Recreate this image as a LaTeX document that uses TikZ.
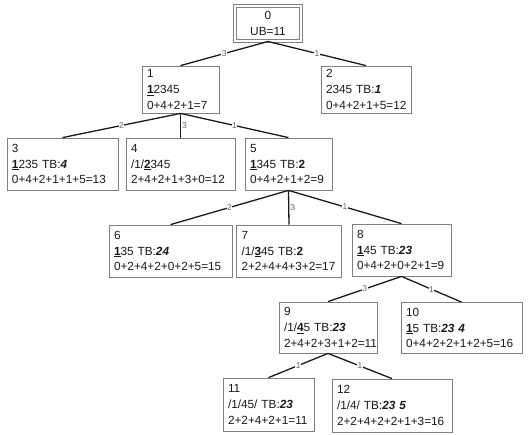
\documentclass[tikz,border=0pt]{standalone}
\usepackage{fontspec}
\setmainfont{Liberation Sans}
\definecolor{bbink}{HTML}{1A1A1A}
\definecolor{bbframe}{HTML}{808080}
\definecolor{bbnum}{HTML}{666666}
\tikzset{
  bb text/.style={font=\fontsize{11.8}{15.7}\selectfont, text=bbink},
  bb box/.style={draw=bbframe, line width=0.8pt, fill=white, align=left,
    inner xsep=5pt, inner ysep=0pt, minimum height=52pt},
  bb root/.style={draw=bbframe, line width=1pt, double=white, double distance=1.6pt,
    align=center, minimum width=66pt, minimum height=35pt, inner sep=0pt},
  bb edge/.style={draw=bbink, line width=1.3pt},
  bb num/.style={font=\fontsize{8.5}{8.5}\selectfont, text=bbnum, fill=white, inner sep=0.4pt}
}
\newcommand{\bbsel}[1]{\underline{\textbf{#1}}}
\newcommand{\bbtb}[1]{\textbf{\textit{#1}}}

\begin{document}
\begin{tikzpicture}[bb text, x=1pt, y=-1pt]
  \useasboundingbox (0,0) rectangle (532,434);
  % search tree nodes
  \node[bb root] (n0) at (268,23.5) {0\\UB=11};
  \node[bb box, text width=67pt, minimum height=47pt] (n1) at (180.5,89.5) {1\\\bbsel{1}2345\\0+4+2+1=7};
  \node[bb box, text width=80pt, minimum height=47pt] (n2) at (366,89.5) {2\\2345 TB:\bbtb{1}\\0+4+2+1+5=12};
  \node[bb box, text width=101pt] (n3) at (62.5,164) {3\\\bbsel{1}235 TB:\bbtb{4}\\0+4+2+1+1+5=13};
  \node[bb box, text width=99pt] (n4) at (180.5,164) {4\\/1/\bbsel{2}345\\2+4+2+1+3+0=12};
  \node[bb box, text width=77pt] (n5) at (288.5,164) {5\\\bbsel{1}345 TB:\textbf{2}\\0+4+2+1+2=9};
  \node[bb box, text width=113pt] (n6) at (170.5,251) {6\\\bbsel{1}35 TB:\bbtb{24}\\0+2+4+2+0+2+5=15};
  \node[bb box, text width=95pt] (n7) at (289,251) {7\\/1/\bbsel{3}45 TB:\textbf{2}\\2+2+4+4+3+2=17};
  \node[bb box, text width=89pt] (n8) at (401.5,250) {8\\\bbsel{1}45 TB:\bbtb{23}\\0+4+2+0+2+1=9};
  \node[bb box, text width=88pt, minimum height=51pt] (n9) at (328,327.5) {9\\/1/\bbsel{4}5 TB:\bbtb{23}\\2+4+2+3+1+2=11};
  \node[bb box, text width=111pt, minimum height=51pt] (n10) at (461.5,328) {10\\\bbsel{1}5 TB:\bbtb{23 4}\\0+4+2+2+1+2+5=16};
  \node[bb box, text width=81pt, minimum height=53pt] (n11) at (268.5,404.5) {11\\/1/45/ TB:\bbtb{23}\\2+2+4+2+1=11};
  \node[bb box, text width=110pt, minimum height=53pt] (n12) at (392,405.5) {12\\/1/4/ TB:\bbtb{23 5}\\2+2+4+2+2+1+3=16};
  % branches
  \draw[bb edge] (n0.south)--node[bb num] {3} (n1.north);
  \draw[bb edge] (n0.south)--node[bb num] {1} (n2.north);
  \draw[bb edge] (n1.south)--node[bb num] {2} (n3.north);
  \draw[bb edge] (n1.south)--node[bb num, right=0.6pt] {3} (n4.north);
  \draw[bb edge] (n1.south)--node[bb num] {1} (n5.north);
  \draw[bb edge] (n5.south)--node[bb num] {2} (n6.north);
  \draw[bb edge] (n5.south)--node[bb num, right=0.6pt] {3} (n7.north);
  \draw[bb edge] (n5.south)--node[bb num] {1} (n8.north);
  \draw[bb edge] (n8.south)--node[bb num] {3} (n9.north);
  \draw[bb edge] (n8.south)--node[bb num] {1} (n10.north);
  \draw[bb edge] (n9.south)--node[bb num] {1} (n11.north);
  \draw[bb edge] (n9.south)--node[bb num] {1} (n12.north);
\end{tikzpicture}
\end{document}
